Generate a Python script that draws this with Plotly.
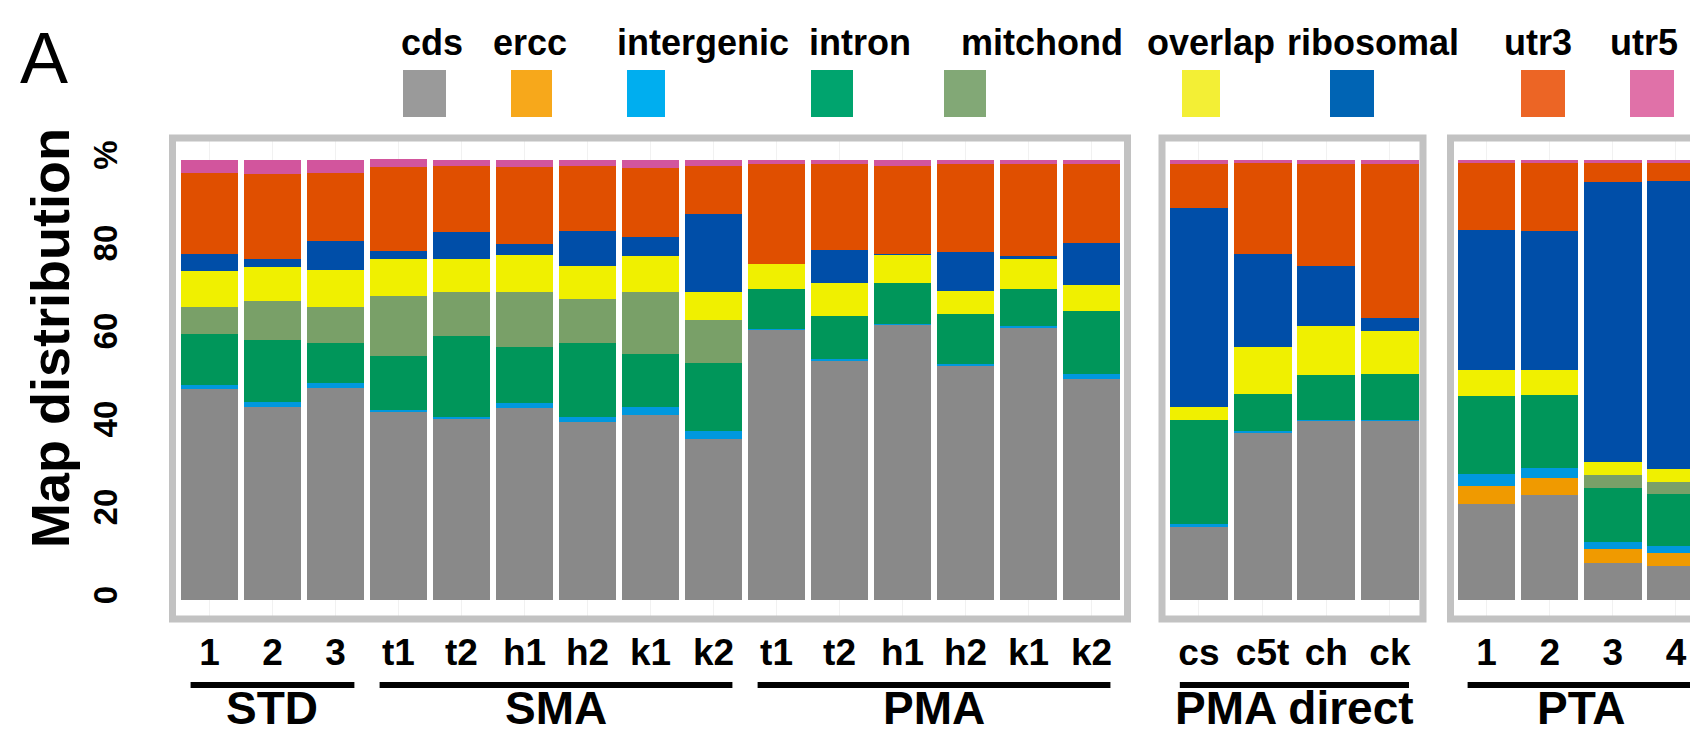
import plotly.graph_objects as go

# ---------------- data ----------------
categories = ["cds", "ercc", "intergenic", "intron", "mitchond",
              "overlap", "ribosomal", "utr3", "utr5"]
bar_colors = ["#898989", "#f09a00", "#0098de", "#00965a", "#79a068",
              "#f0f000", "#004ea8", "#e04f00", "#d2559d"]
legend_colors = ["#9a9a9a", "#f7a81b", "#00aeef", "#00a46e", "#82a876",
                 "#f3ef35", "#0064b4", "#ec6525", "#e071a8"]

panel1_labels = ["1", "2", "3", "t1", "t2", "h1", "h2", "k1", "k2",
                 "t1", "t2", "h1", "h2", "k1", "k2"]
panel2_labels = ["cs", "c5t", "ch", "ck"]
panel3_labels = ["1", "2", "3", "4"]

panel1_cds =        [47.9, 43.8, 48.2, 42.9, 41.1, 43.6, 40.4, 42.1, 36.6, 61.5, 54.5, 62.6, 53.4, 62.0, 50.2]
panel1_ercc =       [0, 0, 0, 0, 0, 0, 0, 0, 0, 0, 0, 0, 0, 0, 0]
panel1_intergenic = [1.0, 1.1, 1.2, 0.3, 0.6, 1.1, 1.1, 1.7, 1.9, 0.2, 0.2, 0.2, 0.3, 0.3, 1.1]
panel1_intron =     [11.5, 14.1, 9.1, 12.2, 18.3, 12.7, 17.0, 12.0, 15.3, 8.9, 9.8, 9.3, 11.2, 8.3, 14.4]
panel1_mitchond =   [6.2, 8.9, 8.1, 13.6, 10.0, 12.6, 9.8, 14.2, 9.8, 0, 0, 0, 0, 0, 0]
panel1_overlap =    [8.1, 7.7, 8.5, 8.6, 7.4, 8.5, 7.5, 8.1, 6.4, 5.8, 7.6, 6.4, 5.4, 7.1, 6.0]
panel1_ribosomal =  [4.0, 2.0, 6.6, 1.7, 6.2, 2.3, 8.1, 4.3, 17.8, 0, 7.5, 0.1, 8.8, 0.4, 9.4]
panel1_utr3 =       [18.3, 19.2, 15.3, 19.2, 15.0, 17.5, 14.7, 15.7, 10.8, 22.8, 19.6, 20.1, 20.1, 21.1, 18.1]
panel1_utr5 =       [3.0, 3.2, 3.0, 1.7, 1.4, 1.7, 1.4, 1.9, 1.4, 0.8, 0.8, 1.3, 0.8, 0.8, 0.8]

panel2_cds =        [16.6, 38.1, 40.8, 40.8]
panel2_ercc =       [0, 0, 0, 0]
panel2_intergenic = [0.6, 0.2, 0.2, 0.2]
panel2_intron =     [23.6, 8.5, 10.2, 10.3]
panel2_mitchond =   [0, 0, 0, 0]
panel2_overlap =    [3.0, 10.7, 11.1, 9.8]
panel2_ribosomal =  [45.4, 21.1, 13.5, 2.9]
panel2_utr3 =       [10.0, 20.8, 23.4, 35.2]
panel2_utr5 =       [0.8, 0.6, 0.8, 0.8]

panel3_cds =        [21.9, 23.9, 8.3, 7.7]
panel3_ercc =       [4.1, 3.9, 3.2, 3.0]
panel3_intergenic = [2.7, 2.2, 1.7, 1.5]
panel3_intron =     [17.7, 16.6, 12.2, 12.0]
panel3_mitchond =   [0, 0, 2.9, 2.6]
panel3_overlap =    [5.8, 5.6, 3.0, 2.9]
panel3_ribosomal =  [32.0, 31.7, 63.6, 65.5]
panel3_utr3 =       [15.2, 15.5, 4.5, 4.2]
panel3_utr5 =       [0.6, 0.6, 0.6, 0.6]

groups = [  # (label, axis, first index, last index)
    ("STD", "x", 0, 2),
    ("SMA", "x", 3, 8),
    ("PMA", "x", 9, 14),
    ("PMA direct", "x2", 0, 3),
    ("PTA", "x3", 0, 3),
]

y_tick_vals = [0, 20, 40, 60, 80, 100]
y_tick_text = ["0", "20", "40", "60", "80", "%"]

# ---------------- layout helpers ----------------
W, H = 1698, 736
FONT = "Liberation Sans, Arial, sans-serif"


def fx(p):
    return p / W


def fy(p):
    return 1 - p / H


panel_data = [
    ("x", "y", panel1_labels, [panel1_cds, panel1_ercc, panel1_intergenic, panel1_intron, panel1_mitchond,
                               panel1_overlap, panel1_ribosomal, panel1_utr3, panel1_utr5]),
    ("x2", "y2", panel2_labels, [panel2_cds, panel2_ercc, panel2_intergenic, panel2_intron, panel2_mitchond,
                                 panel2_overlap, panel2_ribosomal, panel2_utr3, panel2_utr5]),
    ("x3", "y3", panel3_labels, [panel3_cds, panel3_ercc, panel3_intergenic, panel3_intron, panel3_mitchond,
                                 panel3_overlap, panel3_ribosomal, panel3_utr3, panel3_utr5]),
]

fig = go.Figure()
for ax, ay, labels, series in panel_data:
    xs = list(range(len(labels)))
    for ci, cat in enumerate(categories):
        fig.add_trace(go.Bar(
            x=xs, y=series[ci], name=cat, xaxis=ax, yaxis=ay,
            marker=dict(color=bar_colors[ci], line=dict(width=0)),
            showlegend=False,
            customdata=labels,
            hovertemplate="%{customdata}<br>" + cat + ": %{y}%<extra></extra>",
        ))

y_domain = [fy(611), fy(130)]
y_range = [-4.32, 105]

tick_font = dict(family=FONT, size=37, color="black", weight="bold")
xcommon = dict(showgrid=True, gridcolor="#f1f1f1", gridwidth=1, zeroline=False,
               showline=False, ticks="", tickfont=tick_font, ticklabelstandoff=8,
               fixedrange=True)

x_domains = [[fx(164.5), fx(1119.5)], [fx(1154), fx(1415)], [fx(1442.5), 1.0]]
x_ranges = [[-0.587, 14.571], [-0.58, 3.52], [-0.571, 3.476]]

layout_axes = {}
for i, (ax, ay, labels, _) in enumerate(panel_data):
    xname = "xaxis" if i == 0 else f"xaxis{i+1}"
    yname = "yaxis" if i == 0 else f"yaxis{i+1}"
    layout_axes[xname] = dict(domain=x_domains[i], range=x_ranges[i], anchor=ay,
                              tickmode="array", tickvals=list(range(len(labels))),
                              ticktext=labels, **xcommon)
    ydict = dict(domain=y_domain, range=y_range, anchor=ax, showgrid=False,
                 zeroline=False, showline=False, fixedrange=True)
    if i == 0:
        ydict.update(tickmode="array", tickvals=y_tick_vals, ticktext=y_tick_text,
                     tickangle=-90, ticks="", ticklabelstandoff=48,
                     tickfont=dict(family=FONT, size=33, color="black", weight="bold"))
    else:
        ydict.update(showticklabels=False, matches="y")
    layout_axes[yname] = ydict

fig.update_layout(
    width=W, height=H,
    margin=dict(l=0, r=0, t=0, b=0),
    paper_bgcolor="white", plot_bgcolor="white",
    barmode="stack", bargap=0.09,
    **layout_axes,
)

shapes = []
annotations = []

# panel frames
for i, (ax, ay, _, _) in enumerate(panel_data):
    shapes.append(dict(type="rect", xref=f"{ax} domain", yref=f"{ay} domain",
                       x0=0, x1=(1.2 if i == 2 else 1), y0=0, y1=1,
                       line=dict(color="#c2c2c2", width=7), fillcolor="rgba(0,0,0,0)",
                       layer="above"))

# group underlines and labels
for label, ax, s, e in groups:
    shapes.append(dict(type="line", xref=ax, yref="paper", x0=s - 0.3, x1=e + 0.3,
                       y0=fy(677), y1=fy(677), line=dict(color="black", width=6)))
    annotations.append(dict(text=label, xref=ax, yref="paper", x=(s + e) / 2, y=fy(700),
                            xanchor="center", yanchor="middle", showarrow=False,
                            font=dict(family=FONT, size=46, color="black", weight="bold")))

# custom legend: text above a colour swatch
legend_text_x = [424, 522, 695, 852, 1034, 1203, 1365, 1530, 1636]
legend_swatch_x = [(395, 438), (503, 544), (619, 657), (803, 845), (936, 978),
                   (1174, 1212), (1322, 1366), (1513, 1557), (1622, 1666)]
for ci, cat in enumerate(categories):
    annotations.append(dict(text=cat, xref="paper", yref="paper", x=fx(legend_text_x[ci]),
                            y=fy(35), xanchor="center", yanchor="middle", showarrow=False,
                            font=dict(family=FONT, size=36, color="black", weight="bold")))
    x0, x1 = legend_swatch_x[ci]
    shapes.append(dict(type="rect", xref="paper", yref="paper", x0=fx(x0), x1=fx(x1),
                       y0=fy(109), y1=fy(62), line=dict(width=0),
                       fillcolor=legend_colors[ci]))

# panel letter and y-axis title
annotations.append(dict(text="A", xref="paper", yref="paper", x=fx(10), y=fy(50),
                        xanchor="left", yanchor="middle", showarrow=False,
                        font=dict(family=FONT, size=72, color="black")))
annotations.append(dict(text="Map distribution", xref="paper", yref="paper", x=fx(42),
                        y=fy(330), xanchor="center", yanchor="middle", textangle=-90,
                        showarrow=False,
                        font=dict(family=FONT, size=54, color="black", weight="bold")))

fig.update_layout(shapes=shapes, annotations=annotations)
fig.write_html("out.html")
